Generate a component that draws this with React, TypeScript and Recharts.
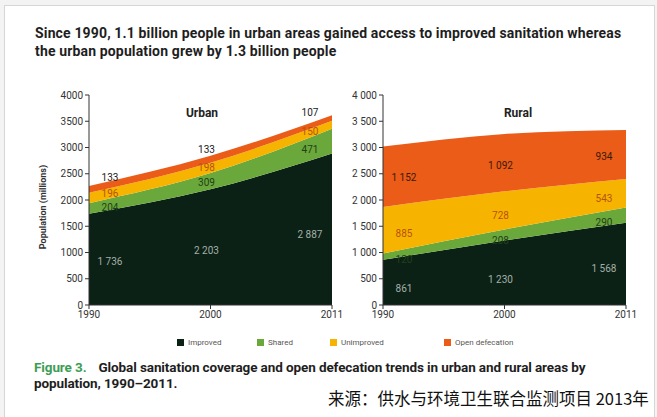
import React from 'react';
import { AreaChart, Area, Line, LabelList, XAxis, YAxis } from 'recharts';

const years = ['1990', '2000', '2011'];
const urbanImproved = [1736, 2203, 2887];
const urbanShared = [204, 309, 471];
const urbanUnimproved = [196, 198, 150];
const urbanOpen = [133, 133, 107];
const ruralImproved = [861, 1230, 1568];
const ruralShared = [120, 208, 290];
const ruralUnimproved = [885, 728, 543];
const ruralOpen = [1152, 1092, 934];
const yTicks = [0, 500, 1000, 1500, 2000, 2500, 3000, 3500, 4000];

const series = [
  { key: 'improved', name: 'Improved', color: '#0c2116', text: '#a3b0a8' },
  { key: 'shared', name: 'Shared', color: '#6aa83b', text: '#234018' },
  { key: 'unimproved', name: 'Unimproved', color: '#f6b400', text: '#b8520c' },
  { key: 'open', name: 'Open defecation', color: '#ea5c18', text: '#3a1a08' },
];

// pixel nudges for the value labels (series x year), labels sit a bit inside the x ends
const urbanDy = [[6, 7, 9], [2, 5, 12], [-1, 3, 10], [-5, -3, 1]];
const ruralDy = [[10, 10, 8], [6, 9, 11], [7, 9, 9], [4, 6, 6]];
const dxByIndex = [21, -4, -22];

const FONT = 'Roboto, "DejaVu Sans", sans-serif';
const fmt = (v: number) => (v >= 1000 ? `${Math.floor(v / 1000)} ${String(v % 1000).padStart(3, '0')}` : String(v));

const buildRows = (a: number[], b: number[], c: number[], d: number[]) =>
  years.map((year, i) => ({ year, improved: a[i], shared: b[i], unimproved: c[i], open: d[i] }));

type Row = { year: string; improved: number; shared: number; unimproved: number; open: number };

const Panel = ({ rows, title, titleX, left, openAbove, tickSep, dy }: { rows: Row[]; title: string; titleX: number; left: number; openAbove: boolean; tickSep: string; dy: number[][] }) => {
  const vals: Record<string, number[]> = {
    improved: rows.map((r) => r.improved),
    shared: rows.map((r) => r.shared),
    unimproved: rows.map((r) => r.unimproved),
    open: rows.map((r) => r.open),
  };
  // label anchors: middle of each band (or the top edge for urban open defecation)
  const anchors = [
    (r: Row) => r.improved / 2,
    (r: Row) => r.improved + r.shared / 2,
    (r: Row) => r.improved + r.shared + r.unimproved / 2,
    (r: Row) => (openAbove ? r.improved + r.shared + r.unimproved + r.open : r.improved + r.shared + r.unimproved + r.open / 2),
  ];
  return (
    <div style={{ position: 'absolute', left, top: 85 }}>
      <AreaChart width={320} height={250} data={rows} margin={{ top: 10, right: 18, left: 19, bottom: 6 }}>
        <XAxis
          dataKey="year"
          tickLine={{ stroke: '#333' }}
          tickSize={4}
          axisLine={{ stroke: '#333' }}
          tick={{ fontSize: 10, fill: '#333', fontFamily: FONT }}
          height={24}
          padding={{ left: 0, right: 0 }}
        />
        <YAxis
          domain={[0, 4000]}
          ticks={yTicks}
          width={40}
          tickSize={4}
          tickLine={{ stroke: '#333' }}
          axisLine={{ stroke: '#333' }}
          tick={{ fontSize: 10, fill: '#333', fontFamily: FONT }}
          tickFormatter={(v: number) => (v >= 1000 ? `${Math.floor(v / 1000)}${tickSep}${String(v % 1000).padStart(3, '0')}` : String(v))}
        />
        {series.map((s) => (
          <Area
            key={s.key}
            type="monotone"
            dataKey={s.key}
            stackId="a"
            stroke="none"
            fill={s.color}
            fillOpacity={1}
            isAnimationActive={false}
          />
        ))}
        {series.map((s, si) => (
          <Line
            key={`lbl-${s.key}`}
            dataKey={anchors[si]}
            stroke="none"
            dot={false}
            activeDot={false}
            isAnimationActive={false}
          >
            <LabelList
              content={(p: any) => (
                <text
                  x={p.x + dxByIndex[p.index]}
                  y={p.y}
                  dy={dy[si][p.index]}
                  textAnchor="middle"
                  fontSize={10}
                  fontFamily={FONT}
                  fill={openAbove && si === 3 ? '#222' : s.text}
                >
                  {fmt(vals[s.key][p.index])}
                </text>
              )}
            />
          </Line>
        ))}
        <text x={titleX} y={32} textAnchor="middle" fontSize={12} fontWeight="bold" fontFamily={FONT} fill="#222">
          {title}
        </text>
      </AreaChart>
    </div>
  );
};

export default function App() {
  const urban = buildRows(urbanImproved, urbanShared, urbanUnimproved, urbanOpen);
  const rural = buildRows(ruralImproved, ruralShared, ruralUnimproved, ruralOpen);
  return (
    <div style={{ position: 'absolute', left: 0, top: 0, width: 657, height: 417, background: '#f3f3f3', overflow: 'hidden', fontFamily: FONT }}>
      <div style={{ position: 'absolute', left: 4, top: 5, width: 649, height: 420, background: '#fff', border: '1px solid #d6d6d6' }} />
      <div style={{ position: 'absolute', left: 35, top: 24, width: 615, fontSize: 14, fontWeight: 'bold', lineHeight: '18px', color: '#1e1e1e', letterSpacing: 0.15, whiteSpace: 'nowrap' }}>
        Since 1990, 1.1 billion people in urban areas gained access to improved sanitation whereas
        <br />
        the urban population grew by 1.3 billion people
      </div>
      <Panel rows={urban} title="Urban" titleX={172} left={30} openAbove={true} tickSep="" dy={urbanDy} />
      <Panel rows={rural} title="Rural" titleX={194} left={324} openAbove={false} tickSep=" " dy={ruralDy} />
      <div
        style={{
          position: 'absolute',
          left: 43,
          top: 207,
          transform: 'translate(-50%, -50%) rotate(-90deg)',
          fontSize: 9,
          fontWeight: 'bold',
          color: '#333',
          whiteSpace: 'nowrap',
        }}
      >
        Population (millions)
      </div>
      {series.map((s, i) => (
        <div key={s.key} style={{ position: 'absolute', left: [177, 257, 330, 444][i], top: 338, display: 'flex', alignItems: 'center', fontSize: 8, color: '#555' }}>
          <span style={{ width: 7, height: 7, background: s.color, marginRight: 4, display: 'inline-block' }} />
          {s.name}
        </div>
      ))}
      <div style={{ position: 'absolute', left: 34, top: 359, fontSize: 13.5, fontWeight: 'bold', lineHeight: '16px', color: '#1e1e1e', letterSpacing: -0.1, whiteSpace: 'nowrap' }}>
        <span style={{ color: '#3c9d55' }}>Figure 3.</span>
        <span style={{ marginLeft: 12 }}>Global sanitation coverage and open defecation trends in urban and rural areas by</span>
        <br />
        population, 1990–2011.
      </div>
      <div style={{ position: 'absolute', left: 328, top: 386, fontSize: 16.5, color: '#111', fontFamily: '"Noto Sans CJK SC", sans-serif', whiteSpace: 'nowrap' }}>
        来源：供水与环境卫生联合监测项目 2013年
      </div>
    </div>
  );
}
